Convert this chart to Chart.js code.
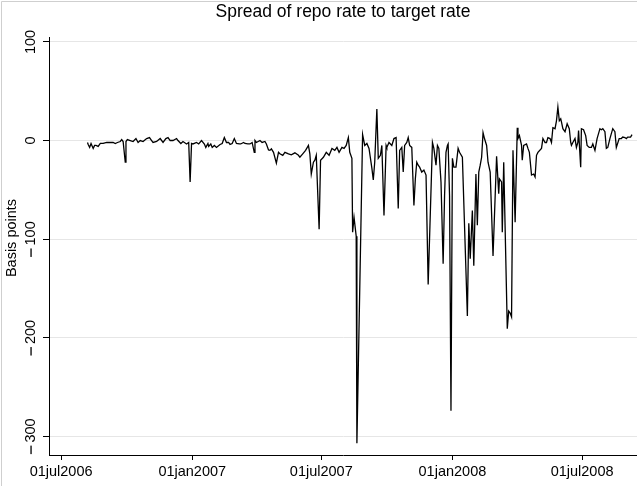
<!DOCTYPE html>
<html>
<head>
<meta charset="utf-8">
<script src="https://cdn.jsdelivr.net/npm/chart.js@4.4.1/dist/chart.umd.min.js"></script>
<style>
    html, body { margin: 0; padding: 0; background: #fff; }
    #wrap { width: 637px; height: 486px; }
</style>
</head>
<body>
<div id="wrap"><canvas id="spread-chart" width="637" height="486"></canvas></div>
<script>
// ===== DATA =====
// day offsets counted from 01jul2006
const dayOffsets = [
    37, 38, 40, 42, 43, 45, 47, 49, 52, 55, 59, 64, 69, 73, 76, 79, 83, 85, 87, 90,
    91, 93, 97, 101, 105, 108, 111, 115, 120, 124, 127, 129, 134, 139, 143, 147, 150, 153, 157, 162,
    164, 168, 171, 176, 179, 181, 183, 185, 190, 193, 197, 201, 203, 206, 207, 210, 212, 215, 218, 223,
    226, 229, 232, 235, 237, 240, 243, 246, 250, 252, 256, 258, 262, 265, 268, 271, 272, 274, 279, 282,
    286, 288, 291, 293, 295, 298, 302, 305, 307, 311, 314, 319, 323, 328, 333, 335, 339, 343, 347, 349,
    351, 354, 356, 358, 362, 364, 368, 372, 376, 380, 384, 387, 390, 394, 397, 400, 403, 405, 408, 409,
    411, 414, 415, 423, 426, 429, 432, 436, 438, 440, 443, 445, 448, 450, 453, 456, 457, 460, 464, 467,
    470, 473, 475, 478, 480, 482, 485, 487, 489, 492, 495, 497, 499, 501, 503, 506, 509, 512, 515, 521,
    523, 526, 528, 530, 533, 536, 538, 540, 542, 543, 545, 547, 549, 551, 554, 557, 559, 563, 570, 572,
    574, 577, 579, 582, 584, 586, 588, 590, 592, 594, 597, 599, 602, 606, 611, 614, 615, 618, 619, 621,
    626, 628, 630, 632, 634, 637, 640, 641, 643, 646, 647, 649, 653, 655, 657, 660, 663, 665, 667, 669,
    674, 676, 679, 681, 683, 686, 688, 690, 693, 695, 697, 699, 701, 702, 704, 707, 710, 713, 715, 716,
    718, 721, 723, 725, 726, 729, 730, 733, 736, 738, 741, 744, 746, 749, 752, 756, 758, 760, 763, 765,
    767, 770, 774, 777, 779, 783, 786, 788, 791, 793, 795, 799, 801
];

// repo rate minus target rate, basis points
const spreadBp = [
    -2, -4, -7, -3, -3, -8, -5, -5, -6, -3, -3, -2, -2, -2, -3, -2, -1, 1, -1, -22,
    -1, 1, 0, -1, 2, -2, 0, -1, 2, 3, 0, -2, -1, 2, -2, 2, 3, 0, 0, 2,
    0, -3, -1, -3.5, -2, -42, -3, -3.5, -2, -3.5, 0, -3.5, -7, -3, -6, -3.5, -7, -5, -7, -4,
    -3, 3, -2, -2, -4, -3, 2, -3, -3.5, -3.5, -2, -3, -3.5, -3.5, -2, -12, 0, -2, 0, -2,
    -1, -3.5, -9.5, -10, -8.5, -12, -23, -12, -13.5, -15, -12, -13.5, -14.5, -12.5, -15, -17, -13.5, -10, -5, -13.5,
    -34, -22, -20, -15, -90, -20, -17, -12, -15, -8, -10, -7, -12, -7, -8, -5, 3, -12, -18, -93,
    -78, -97, -307, 6, -5, -3, -8, -28, -40, -22, 32, -18, -15, -5, -76, -5, -7, -2, -5, 2,
    3, -69, -10, -7, -32, -5, -2, 3, -5, -7, -66, -39, -22, -25, -27, -32, -30, -35, -146, -2,
    -8, -25, -5, -8, -42, -125, -56, -12, -5, -3.5, -56, -274, -18, -27, -27, -8, -12, -17, -178, -84,
    -120, -71, -127, -34, -86, -32, -25, -17, 8, 2, -5, -22, -32, -117, -16, -54, -39, -42, -93, -22,
    -191, -173, -175, -179, -10, -83, 13, 2, 5, -5, -20, -5, -3.5, -8, -12, -35, -34, -37, -15, -12,
    -8, 2, -2, -2, 3, 2, -2, 13, 12, 20, 34, 20, 22, 19, 12, 9, 17, 12, -2, -5,
    -2, 2, -7, -2, 10, -27, 12, 11, 5, -5, -7, -7, -3.5, -10, 2, 12, 11, 12, 9, -8,
    -7, 2, 12, 9, -7, 2, 2, 3.5, 3, 2, 3.5, 3.5, 6
];

const yTickValues = [100, 0, -100, -200, -300];
const xTickDays = [0, 184, 365, 549, 731];
const xTickLabels = ['01jul2006', '01jan2007', '01jul2007', '01jan2008', '01jul2008'];

const chartTitle = 'Spread of repo rate to target rate';
const yAxisTitle = 'Basis points';

// ===== CHART =====
const FONT = '"Liberation Sans", Arial, Helvetica, sans-serif';
const LABEL_SIZE = 14.5;

// rotated y label with a long minus sign
function drawYLabel(ctx, value, px, py) {
    const digits = String(Math.abs(value));
    const dw = ctx.measureText(digits).width;
    const dashLen = value < 0 ? 8.5 : 0;
    const gap = value < 0 ? 3 : 0;
    const total = dashLen + gap + dw;

    ctx.save();
    ctx.translate(px, py);
    ctx.rotate(-Math.PI / 2);
    let x = -total / 2;
    if (value < 0) {
        ctx.fillRect(x, -0.6, dashLen, 1.3);
        x += dashLen + gap;
    }
    ctx.textAlign = 'left';
    ctx.fillText(digits, x, 0);
    ctx.restore();
}

// title, rotated y labels and the outer frame are drawn by hand
const stataDecor = {
    id: 'stataDecor',
    afterDraw(chart) {
        const ctx = chart.ctx;
        const area = chart.chartArea;
        const yScale = chart.scales.y;

        ctx.save();
        ctx.fillStyle = '#000';
        ctx.textBaseline = 'middle';

        ctx.font = '17.5px ' + FONT;
        ctx.textAlign = 'center';
        ctx.fillText(chartTitle, (area.left + area.right) / 2, 12);

        ctx.font = LABEL_SIZE + 'px ' + FONT;
        yTickValues.forEach(v => drawYLabel(ctx, v, 31, yScale.getPixelForValue(v)));

        ctx.save();
        ctx.translate(12, 238);
        ctx.rotate(-Math.PI / 2);
        ctx.textAlign = 'center';
        ctx.fillText(yAxisTitle, 0, 0);
        ctx.restore();

        ctx.strokeStyle = '#cfcfcf';
        ctx.lineWidth = 1;
        ctx.beginPath();
        ctx.moveTo(1.5, chart.height);
        ctx.lineTo(1.5, 1.5);
        ctx.lineTo(chart.width, 1.5);
        ctx.stroke();
        ctx.restore();
    }
};

const points = dayOffsets.map((d, i) => ({ x: d, y: spreadBp[i] }));

new Chart(document.getElementById('spread-chart'), {
    type: 'line',
    data: {
        datasets: [{
            data: points,
            borderColor: '#000',
            borderWidth: 1.3,
            pointRadius: 0,
            tension: 0,
            fill: false
        }]
    },
    options: {
        responsive: false,
        animation: false,
        layout: { padding: { top: 37, left: 0, right: 0, bottom: 0 } },
        plugins: {
            legend: { display: false },
            tooltip: { enabled: false },
            title: { display: false }
        },
        scales: {
            x: {
                type: 'linear',
                min: -17,
                max: 808,
                afterBuildTicks: scale => { scale.ticks = xTickDays.map(v => ({ value: v })); },
                afterFit: scale => { scale.height = 31; },
                ticks: {
                    autoSkip: false,
                    maxRotation: 0,
                    minRotation: 0,
                    padding: 3,
                    color: '#000',
                    font: { family: FONT, size: LABEL_SIZE },
                    callback: (value, index) => xTickLabels[index]
                },
                grid: { drawOnChartArea: false, tickColor: '#000', tickLength: 5 },
                border: { color: '#000', width: 1 }
            },
            y: {
                min: -319,
                max: 105,
                afterBuildTicks: scale => { scale.ticks = yTickValues.map(v => ({ value: v })); },
                afterFit: scale => { scale.width = 49; },
                ticks: { display: false },
                grid: { color: '#e6e6e6', lineWidth: 1, tickColor: '#000', tickLength: 6 },
                border: { color: '#000', width: 1 }
            }
        }
    },
    plugins: [stataDecor]
});
</script>
</body>
</html>
